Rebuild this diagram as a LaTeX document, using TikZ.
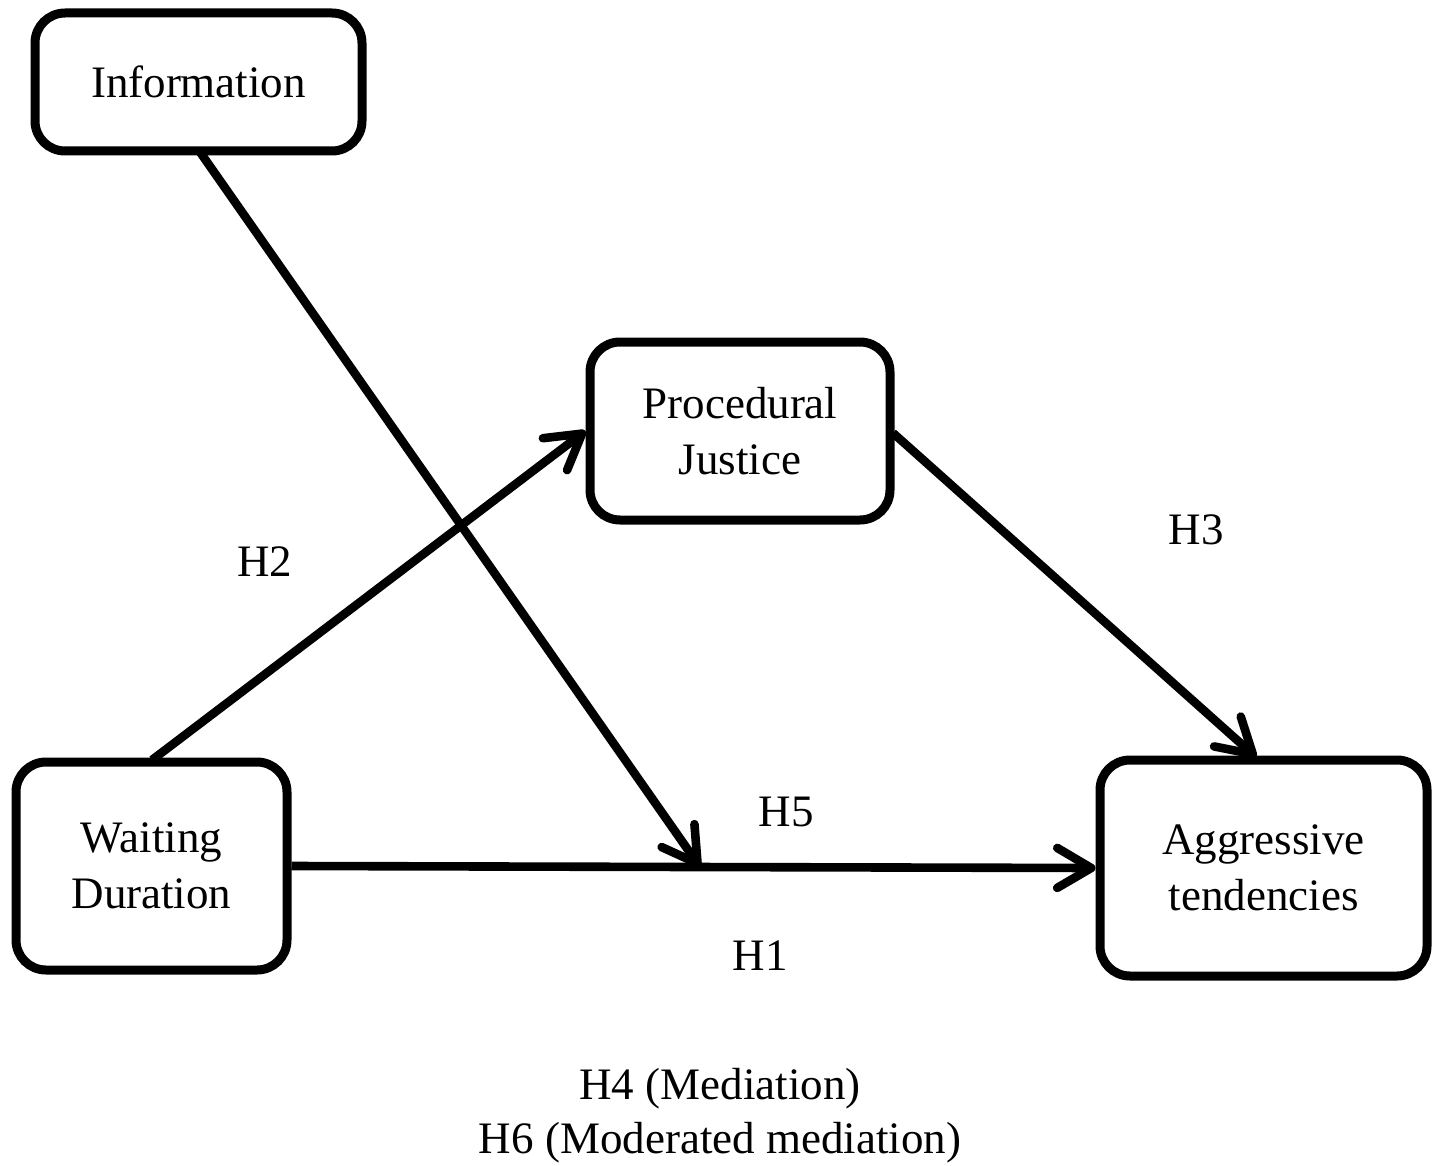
\documentclass[tikz,border=0pt]{standalone}
\usepackage{fontspec}
\setmainfont{Liberation Serif}
\usetikzlibrary{arrows.meta}
\begin{document}
\begin{tikzpicture}[x=0.5pt,y=-0.5pt,
  box/.style={draw, line width=4.5pt, rounded corners=15pt, align=center, font=\fontsize{22.5}{28}\selectfont, inner sep=0pt},
  conn/.style={line width=4.3pt, -{Straight Barb[length=17pt,width=20pt,round]}},
  lab/.style={font=\fontsize{22.5}{27}\selectfont}]
\useasboundingbox (0,0) rectangle (1434,1166);
\node[box, minimum width=163.5pt, minimum height=69pt] (info) at (198.5,82) {Information};
\node[box, minimum width=150pt, minimum height=89pt] (pj) at (740,431) {Procedural\\Justice};
\node[box, minimum width=135.5pt, minimum height=104pt] (wd) at (151.5,866) {Waiting\\Duration};
\node[box, minimum width=163.5pt, minimum height=108pt] (at) at (1263.5,868) {Aggressive\\tendencies};
\coordinate (m) at (700,867);
\draw[conn] (wd.east) -- (at.west);
\draw[conn] (200,152) -- (m);
\draw[conn] (152,760) -- (pj.west);
\draw[conn] (893,433) -- (1256,757);
\node[lab] (h2) at (265,562) {H2};
\node[lab] (h3) at (1196,530) {H3};
\node[lab] (h5) at (786,812) {H5};
\node[lab] (h1) at (760,956) {H1};
\node[lab, align=center] (h46) at (720,1116) {H4 (Mediation)\\H6 (Moderated mediation)};
\end{tikzpicture}
\end{document}
